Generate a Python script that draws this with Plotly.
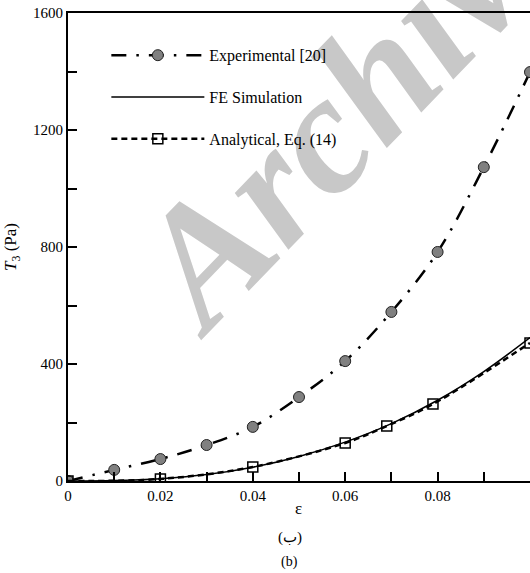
import plotly.graph_objects as go

# Experimental [20]
exp_x = [0, 0.01, 0.02, 0.03, 0.04, 0.05, 0.06, 0.07, 0.08, 0.09, 0.10]
exp_y = [0, 38, 75, 123, 185, 287, 410, 578, 783, 1073, 1398]

# FE Simulation
fe_x = [0, 0.01, 0.02, 0.03, 0.04, 0.05, 0.06, 0.07, 0.08, 0.09, 0.10]
fe_y = [0, 1.5, 8, 22, 47, 84, 133, 196, 276, 374, 490]

# Analytical, Eq. (14)
an_x = [0, 0.02, 0.04, 0.06, 0.069, 0.079, 0.10]
an_y = [0, 7, 48, 130, 188, 263, 472]

x_ticks = [0, 0.02, 0.04, 0.06, 0.08, 0.1]
x_labels = ["0", "0.02", "0.04", "0.06", "0.08", "0.1"]
y_ticks = [0, 400, 800, 1200, 1600]

FONT = "Liberation Serif"

fig = go.Figure()
fig.add_trace(go.Scatter(
    x=exp_x, y=exp_y, mode="lines+markers", name="Experimental [20]",
    line=dict(color="black", width=2.5, dash="15px,10px,2.5px,10px", shape="spline"),
    marker=dict(symbol="circle", size=11, color="#808080",
                line=dict(color="#222222", width=1)),
    legendgroup="a",
))
fig.add_trace(go.Scatter(
    x=fe_x, y=fe_y, mode="lines", name="FE Simulation",
    line=dict(color="black", width=1.5, shape="spline"),
    legendgroup="b",
))
fig.add_trace(go.Scatter(
    x=an_x, y=an_y, mode="lines+markers", name="Analytical, Eq. (14)",
    line=dict(color="black", width=2.5, dash="6px,4px", shape="spline"),
    marker=dict(symbol="square-open", size=10, color="black",
                line=dict(color="black", width=1.5)),
    legendgroup="c",
))

# watermark, drawn beneath the data
fig.add_shape(
    type="rect", xref="paper", yref="paper", x0=0.495, x1=0.695, y0=0.748, y1=0.948,
    line=dict(width=0, color="rgba(0,0,0,0)"), fillcolor="rgba(0,0,0,0)",
    layer="below",
    label=dict(text="Archive", textangle=-46, textposition="middle center",
               font=dict(family=FONT, size=170, color="#c8c8c8",
                         weight="bold", style="italic")),
)

fig.update_layout(
    width=530, height=573,
    margin=dict(l=68, r=0, t=13, b=92),
    paper_bgcolor="white", plot_bgcolor="white",
    font=dict(family=FONT, size=15, color="black"),
    showlegend=True,
    legend=dict(x=0.083, y=0.946, xanchor="left", yanchor="top",
                bgcolor="rgba(0,0,0,0)", font=dict(family=FONT, size=16),
                tracegroupgap=18, itemwidth=93),
    xaxis=dict(range=[0, 0.1], tickvals=x_ticks, ticktext=x_labels,
               showgrid=False, zeroline=False, showline=True, linecolor="black",
               linewidth=2, mirror=True, ticks="inside", ticklen=9, tickwidth=1.5,
               tickcolor="black", layer="above traces",
               minor=dict(dtick=0.01, ticks="inside", ticklen=9, tickwidth=1.5,
                          tickcolor="black", showgrid=False),
               tickfont=dict(family=FONT, size=15)),
    yaxis=dict(range=[0, 1600], tickvals=y_ticks,
               showgrid=False, zeroline=False, showline=True, linecolor="black",
               linewidth=2, mirror=False, ticks="inside", ticklen=9, tickwidth=1.5,
               tickcolor="black",
               minor=dict(dtick=200, ticks="inside", ticklen=9, tickwidth=1.5,
                          tickcolor="black", showgrid=False),
               tickfont=dict(family=FONT, size=15),
               title=dict(text="<i>T</i><sub>3</sub> (Pa)", font=dict(family=FONT, size=17),
                          standoff=12)),
    annotations=[
        dict(text="ε", xref="paper", yref="paper", x=0.498, y=-0.058,
             showarrow=False, xanchor="center", yanchor="middle",
             font=dict(family=FONT, size=17)),
        dict(text="(ب)", xref="paper", yref="paper", x=0.48, y=-0.12,
             showarrow=False, xanchor="center", yanchor="middle",
             font=dict(family=FONT, size=15)),
        dict(text="(b)", xref="paper", yref="paper", x=0.48, y=-0.174,
             showarrow=False, xanchor="center", yanchor="middle",
             font=dict(family=FONT, size=14)),
    ],
)

fig.write_html("out.html")
